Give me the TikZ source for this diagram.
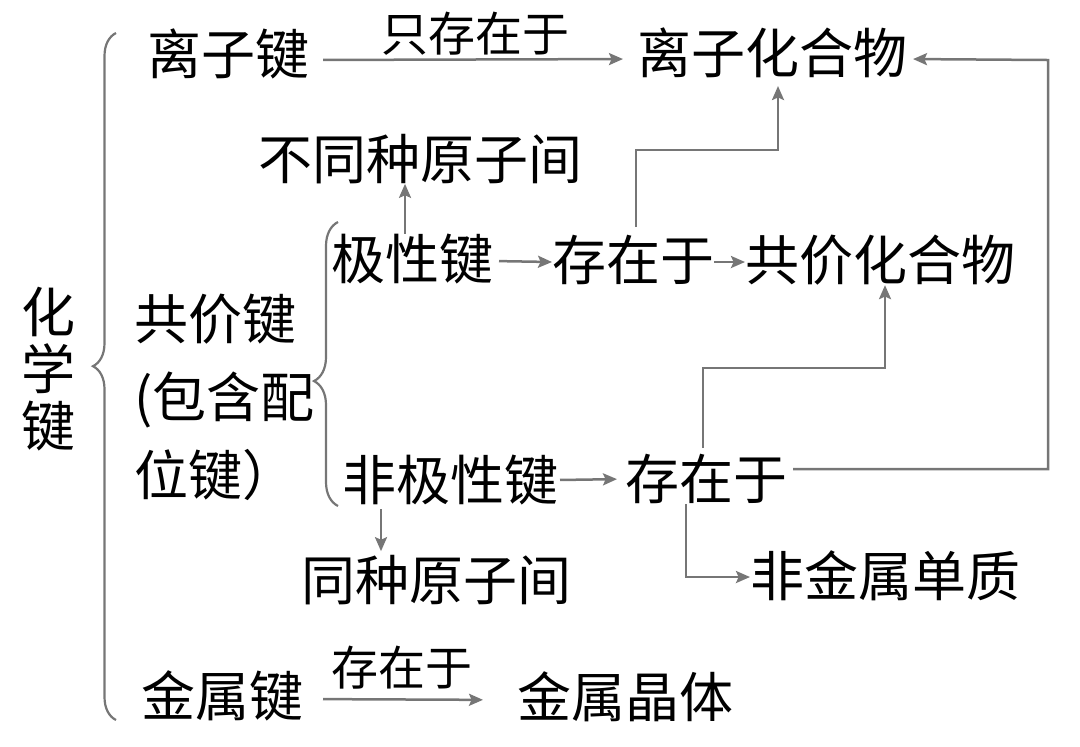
\documentclass[tikz,border=0pt]{standalone}
\usepackage{fontspec}
\newfontfamily\cjk{Noto Sans CJK SC}
\usetikzlibrary{arrows.meta,decorations.pathreplacing}
\definecolor{jtgray}{RGB}{118,118,118}
\newcommand{\zhu}{\cjk\fontsize{27pt}{28.5pt}\selectfont}
\newcommand{\zhuhang}{\cjk\fontsize{27pt}{39pt}\selectfont}
\newcommand{\biao}{\cjk\fontsize{23.5pt}{25pt}\selectfont}

\begin{document}
\begin{tikzpicture}[x=0.5pt,y=-0.5pt,line width=1.25pt,
  every node/.style={inner sep=0pt,outer sep=0pt,font=\zhu},
  arr/.style={draw=jtgray,-{Stealth[length=7pt,width=6pt,inset=1.3pt]}},
  kuohao/.style={draw=jtgray,line width=1.1pt,decorate,
    decoration={brace,amplitude=#1}},
  kuohao/.default=11.5pt]
  % 画布与源图同比例：1080x746 px，1px = 0.5pt，y 轴向下
  \path[use as bounding box] (0,0) rectangle (1080,746);
  % ---- 左列 ----
  \node[align=center] (hxj) at (48,369) {化\\学\\键};
  \draw[kuohao,decoration={aspect=0.515}] (116,720) -- (116,33);
  % ---- 离子键一行 ----
  \node (lzj)   at (228,54) {离子键};
  \node (lzhhw) at (772,53) {离子化合物};
  \node[font=\biao] (lbl1) at (475,34) {只存在于};
  % ---- 共价键一块 ----
  \node[anchor=west,align=left,font=\zhuhang] (gjj) at (134,397)
    {共价键\\(包含配\\位键）};
  \draw[kuohao=12pt,decoration={aspect=0.44}] (338,506) -- (338,222);
  \node (btz)   at (420,159) {不同种原子间};
  \node (jxj)   at (412,259) {极性键};
  \node (cz1)   at (633,260) {存在于};
  \node (gjhhw) at (880,260) {共价化合物};
  \node (fjxj)  at (450,480) {非极性键};
  \node (cz2)   at (706,479) {存在于};
  \node (tz)    at (436,580) {同种原子间};
  \node (fjsdz) at (885,576) {非金属单质};
  % ---- 金属键一行 ----
  \node (jsj)   at (222,696) {金属键};
  \node (jsjt)  at (625,697) {金属晶体};
  \node[font=\biao] (lbl2) at (402,668) {存在于};
  % ---- 拐点 ----
  \coordinate (c1) at (636,150);   % 存在于 -> 离子化合物
  \coordinate (c2) at (703,368);   % 存在于 -> 共价化合物
  \coordinate (c3) at (1048,60);   % 右侧回线
  % ---- 连线 ----
  \draw[arr,shorten <=7pt,shorten >=7pt] ([yshift=-3pt]lzj.east) -- ([yshift=-3pt]lzhhw.west);
  \draw[arr,shorten <=3pt] ([yshift=-1pt]jxj.east) -- ([yshift=-1pt]cz1.west);
  \draw[arr] ([yshift=-1pt]cz1.east) -- ([yshift=-1pt]gjhhw.west);
  \draw[arr] ([xshift=-3.5pt]jxj.north) -- ([xshift=-3.5pt]jxj.north |- btz.south);
  \draw[arr] ([yshift=4pt]cz1.north -| c1) -- (c1) -| ([xshift=3pt,yshift=-4pt]lzhhw.south);
  \draw[arr,shorten <=1pt,shorten >=4pt] (fjxj.east) -- (cz2.west);
  \draw[arr] ([yshift=3pt]cz2.north -| c2) -- (c2) -| ([xshift=2.5pt]gjhhw.south);
  \draw[arr,shorten >=3pt] ([yshift=5pt,xshift=3pt]cz2.east) -| (c3) -- ([yshift=-3pt]lzhhw.east);
  \draw[arr,shorten <=2pt,shorten >=2pt] ([xshift=-34.5pt]fjxj.south) -- ([xshift=-34.5pt]fjxj.south |- tz.north);
  \draw[arr] ([xshift=-10pt]cz2.south) |- ([yshift=-0.5pt]fjsdz.west);
  \draw[arr,shorten <=10pt,shorten >=17pt] ([yshift=-1.5pt]jsj.east) -- ([yshift=-1.5pt]jsjt.west);
\end{tikzpicture}
\end{document}
